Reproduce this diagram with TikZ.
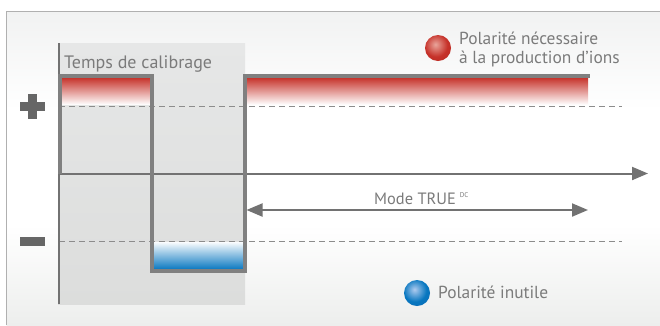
\documentclass[tikz,border=0pt]{standalone}
\usepackage{fontspec}
\setmainfont{PT Sans}
\usetikzlibrary{arrows.meta,shadings}
\definecolor{frameline}{HTML}{B0B0B0}
\definecolor{bgtop}{HTML}{F1F2F2}
\definecolor{bgbot}{HTML}{EDEEED}
\definecolor{calitop}{HTML}{E6E7E7}
\definecolor{calibot}{HTML}{DCDDDC}
\definecolor{wave}{HTML}{808080}
\definecolor{axis}{HTML}{727272}
\definecolor{sign}{HTML}{666666}
\definecolor{txt}{HTML}{7B7B7B}
\definecolor{dash}{HTML}{8C8C8C}
\definecolor{polred}{HTML}{C6322A}
\definecolor{polblue}{HTML}{0877C0}
\definecolor{redhi}{HTML}{E9A59B}
\definecolor{reddark}{HTML}{AE241C}
\definecolor{bluehi}{HTML}{AFCBEF}
\definecolor{bluedark}{HTML}{0C62AC}
\pgfdeclareradialshading{redball}{\pgfpoint{-5bp}{7bp}}{color(0bp)=(redhi); color(22bp)=(polred); color(50bp)=(reddark); color(100bp)=(reddark)}
\pgfdeclareradialshading{blueball}{\pgfpoint{-5bp}{7bp}}{color(0bp)=(bluehi); color(22bp)=(polblue); color(50bp)=(bluedark); color(100bp)=(bluedark)}
\tikzset{
  waveline/.style={draw=wave, line width=3.5pt},
  axisline/.style={draw=axis, line width=2pt},
  dashline/.style={draw=dash, line width=1pt, dash pattern=on 6pt off 4pt},
  label/.style={text=txt, inner sep=0pt, font=\fontsize{17.4}{19}\selectfont},
  signbar/.style={fill=sign},
  arrowtip/.style={-{Triangle[length=16pt,width=13pt]}},
  redfill/.style={top color=polred, middle color=polred!55, bottom color=polred!2},
  bluefill/.style={top color=polblue!2, middle color=polblue!55, bottom color=polblue},
}
\begin{document}
\begin{tikzpicture}[x=1pt,y=-1pt]
\useasboundingbox (0,0) rectangle (660,325);
\fill[white] (0,0) rectangle (660,325);
% background frame
\shade[top color=bgtop, bottom color=white] (6.5,11) rectangle (660,110);
\fill[white] (6.5,110) rectangle (660,225);
\shade[top color=white, bottom color=bgbot] (6.5,225) rectangle (660,325);
\draw[frameline, line width=1pt] (6.5,325) -- (6.5,11) -- (660,11);
% calibration zone
\shade[top color=calitop, bottom color=calibot] (58,43) rectangle (245,304);
\node[label, anchor=base west, font=\fontsize{18}{20}\selectfont] (cal) at (64,68) {Temps de calibrage};
% polarity fills
\shade[redfill] (61.5,77.5) rectangle (150.5,104);
\shade[redfill] (246.5,77.5) rectangle (588,104);
\shade[bluefill] (153.5,242) rectangle (243.5,269.5);
% dashed levels
\coordinate (pl) at (59,106);
\coordinate (pr) at (622,106);
\coordinate (ml) at (59,241);
\coordinate (mr) at (622,241);
\draw[dashline] (pl) -- (pr);
\draw[dashline] (ml) -- (mr);
% axes
\coordinate (ytop) at (58.5,43);
\coordinate (ybot) at (58.5,304);
\coordinate (t0) at (58.5,173.5);
\coordinate (tend) at (648,173.5);
\draw[axisline] (ytop) -- (ybot);
\draw[axisline, arrowtip] (t0) -- (tend);
% waveform
\coordinate (w0) at (60,173.5);
\coordinate (w1) at (60,76);
\coordinate (w2) at (152,76);
\coordinate (w3) at (152,271);
\coordinate (w4) at (245,271);
\coordinate (w5) at (245,76);
\coordinate (w6) at (590,76);
\draw[waveline] (w0) -- (w1) -- (w2) -- (w3) -- (w4) -- (w5) -- (w6);
% mode TRUE DC
\coordinate (ma) at (246.5,210);
\coordinate (mb) at (588,210);
\draw[axisline, {Triangle[length=16pt,width=13pt]}-{Triangle[length=16pt,width=13pt]}] (ma) -- (mb);
\node[label, anchor=base west, font=\fontsize{16.4}{18}\selectfont] (mode) at (374,204) {Mode TRUE\hspace{4pt}\raisebox{7pt}{\fontsize{7}{8}\selectfont DC}};
% signs
\fill[signbar] (20,102) rectangle (45,111);
\fill[signbar] (28,94) rectangle (37,119);
\fill[signbar] (20,237) rectangle (45,246);
% legends
\shade[shading=redball] (438,48) circle (13);
\node[label, anchor=base west, align=left] (lred) at (459,63) {Polarité nécessaire\\à la production d’ions};
\shade[shading=blueball] (417,293) circle (13);
\node[label, anchor=base west] (lblue) at (438,298) {Polarité inutile};
\end{tikzpicture}
\end{document}
